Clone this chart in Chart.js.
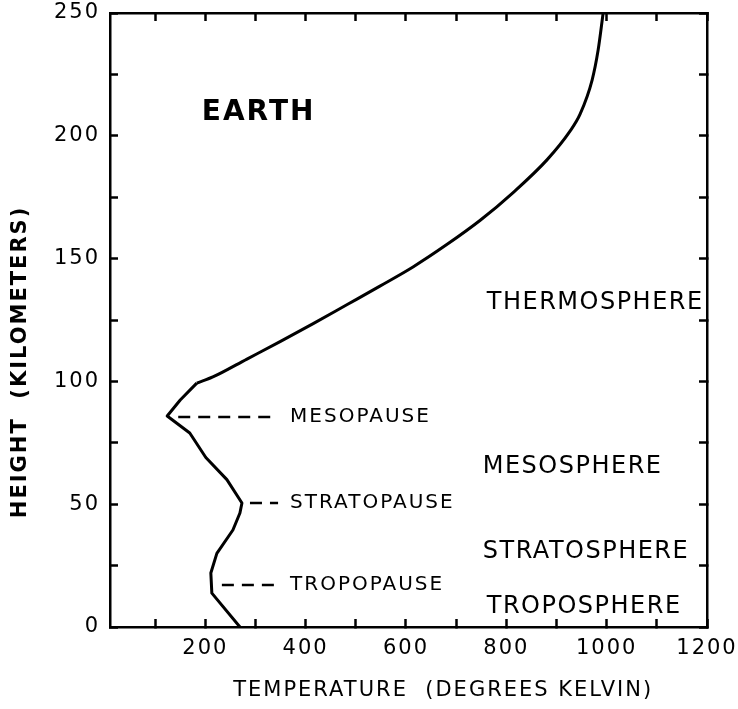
<!DOCTYPE html>
<html>
<head>
<meta charset="utf-8">
<script src="https://cdn.jsdelivr.net/npm/chart.js@4.4.1/dist/chart.umd.min.js"></script>
<style>
  html, body { margin: 0; padding: 0; background: #ffffff; }
  #wrap { width: 738px; height: 709px; }
</style>
</head>
<body>
<div id="wrap"><canvas id="c" width="738" height="709"></canvas></div>
<script>
// ---- data ----
// lower atmosphere (troposphere .. mesopause), drawn with straight segments
const lowerTemperatureK = [269, 213, 211, 223, 255, 269, 273, 243, 201, 169, 124, 150, 183];
const lowerHeightKm     = [0, 13.8, 22, 30, 39.5, 46.4, 50.5, 60, 69, 79, 85.9, 92.4, 99.3];
// thermosphere, drawn as a smooth curve
const upperTemperatureK = [183, 215, 283, 349, 415, 482, 548, 614, 682, 748, 813, 881, 927, 947, 971, 983, 993];
const upperHeightKm     = [99.3, 101.8, 109.1, 116.2, 123.5, 131.2, 138.8, 146.6, 155.8, 165.6, 176.8, 190.2, 201.9, 208.8, 222.7, 234.9, 250];

const pauseLabels   = ['MESOPAUSE', 'STRATOPAUSE', 'TROPOPAUSE'];
const pauseHeightKm = [85.5, 50.5, 17.1];
const pauseFromK    = [146, 289, 233];
const pauseToK      = [339, 345, 339];
const pauseLabelK   = [369, 369, 369];

const layerLabels  = ['THERMOSPHERE', 'MESOSPHERE', 'STRATOSPHERE', 'TROPOSPHERE'];
const layerLabelK  = [761, 753, 753, 761];
const layerLabelKm = [131.9, 65.1, 30.5, 8.1];

const planetLabel   = 'EARTH';
const planetLabelK  = 193;
const planetLabelKm = 209.3;

const xTickValues  = [100, 200, 300, 400, 500, 600, 700, 800, 900, 1000, 1100, 1200];
const xLabelValues = [200, 400, 600, 800, 1000, 1200];
const yTickValues  = [0, 25, 50, 75, 100, 125, 150, 175, 200, 225, 250];
const yLabelValues = [0, 50, 100, 150, 200, 250];

const xTitle = '\u00a0\u00a0\u00a0\u00a0\u00a0\u00a0\u00a0\u00a0TEMPERATURE  (DEGREES KELVIN)';
const yTitle = 'HEIGHT  (KILOMETERS)\u00a0\u00a0\u00a0\u00a0\u00a0\u00a0\u00a0\u00a0\u00a0';

// ---- build ----
const FONT = "'DejaVu Sans', sans-serif";
const toPoints = (xs, ys) => xs.map((t, i) => ({ x: t, y: ys[i] }));
const pauseDatasets = pauseLabels.map((name, i) => ({
  label: name,
  data: [{ x: pauseFromK[i], y: pauseHeightKm[i] }, { x: pauseToK[i], y: pauseHeightKm[i] }],
  borderColor: '#000',
  borderWidth: 2.5,
  borderDash: [12, 8],
  pointRadius: 0,
  tension: 0
}));

const spacingPlugin = {
  id: 'spacing',
  beforeDraw(chart) { chart.ctx.letterSpacing = '2px'; }
};

const textPlugin = {
  id: 'textLabels',
  afterDatasetsDraw(chart) {
    const ctx = chart.ctx;
    const xs = chart.scales.x, ys = chart.scales.y;
    ctx.save();
    ctx.fillStyle = '#000';
    ctx.textAlign = 'left';
    ctx.textBaseline = 'middle';
    ctx.letterSpacing = '2px';
    ctx.font = "bold 28px " + FONT;
    ctx.fillText(planetLabel, xs.getPixelForValue(planetLabelK), ys.getPixelForValue(planetLabelKm));
    ctx.letterSpacing = '1.5px';
    ctx.font = "24px " + FONT;
    layerLabels.forEach((t, i) => ctx.fillText(t, xs.getPixelForValue(layerLabelK[i]), ys.getPixelForValue(layerLabelKm[i])));
    ctx.letterSpacing = '2px';
    ctx.font = "20px " + FONT;
    pauseLabels.forEach((t, i) => ctx.fillText(t, xs.getPixelForValue(pauseLabelK[i]), ys.getPixelForValue(pauseHeightKm[i])));
    ctx.restore();
  }
};

const tickGrid = {
  drawOnChartArea: false,
  drawTicks: true,
  tickLength: -8,
  tickWidth: 2.5,
  tickColor: '#000'
};
const axisBorder = { display: true, color: '#000', width: 2.5 };
const noPad = s => { s.paddingTop = 0; s.paddingBottom = 0; s.paddingLeft = 0; s.paddingRight = 0; };

new Chart(document.getElementById('c'), {
  type: 'line',
  data: {
    datasets: [{
      label: 'Temperature (lower)',
      data: toPoints(lowerTemperatureK, lowerHeightKm),
      borderColor: '#000',
      borderWidth: 3,
      pointRadius: 0,
      tension: 0,
      borderJoinStyle: 'round'
    }, {
      label: 'Temperature (thermosphere)',
      data: toPoints(upperTemperatureK, upperHeightKm),
      borderColor: '#000',
      borderWidth: 3,
      pointRadius: 0,
      cubicInterpolationMode: 'monotone',
      borderJoinStyle: 'round'
    }, ...pauseDatasets]
  },
  plugins: [spacingPlugin, textPlugin],
  options: {
    responsive: false,
    animation: false,
    devicePixelRatio: 1,
    layout: { padding: 0 },
    plugins: { legend: { display: false }, tooltip: { enabled: false } },
    scales: {
      x: {
        type: 'linear', position: 'bottom', min: 10, max: 1200,
        afterBuildTicks: s => { s.ticks = xTickValues.map(v => ({ value: v })); },
        afterFit: s => { s.height = 82; noPad(s); },
        ticks: {
          autoSkip: false, maxRotation: 0, padding: 17, color: '#000',
          font: { family: FONT, size: 21 },
          callback: v => xLabelValues.includes(v) ? String(v) : ''
        },
        grid: tickGrid, border: axisBorder,
        title: { display: true, text: xTitle, color: '#000', font: { family: FONT, size: 21 }, padding: { top: 0, bottom: 6 } }
      },
      x2: {
        type: 'linear', axis: 'x', position: 'top', min: 10, max: 1200,
        afterBuildTicks: s => { s.ticks = xTickValues.map(v => ({ value: v })); },
        afterFit: s => { s.height = 13; noPad(s); },
        ticks: { display: false },
        grid: tickGrid, border: axisBorder
      },
      y: {
        type: 'linear', position: 'left', min: 0, max: 250,
        afterBuildTicks: s => { s.ticks = yTickValues.map(v => ({ value: v })); },
        afterFit: s => { s.width = 110; noPad(s); },
        ticks: {
          autoSkip: false, padding: 18, color: '#000',
          font: { family: FONT, size: 21 },
          callback: v => yLabelValues.includes(v) ? String(v) : ''
        },
        grid: tickGrid, border: axisBorder,
        title: { display: true, text: yTitle, color: '#000', font: { family: FONT, size: 21, weight: 'bold' }, padding: { top: 8, bottom: 0 } }
      },
      y2: {
        type: 'linear', axis: 'y', position: 'right', min: 0, max: 250,
        afterBuildTicks: s => { s.ticks = yTickValues.map(v => ({ value: v })); },
        afterFit: s => { s.width = 31; noPad(s); },
        ticks: { display: false },
        grid: tickGrid, border: axisBorder
      }
    }
  }
});
</script>
</body>
</html>
